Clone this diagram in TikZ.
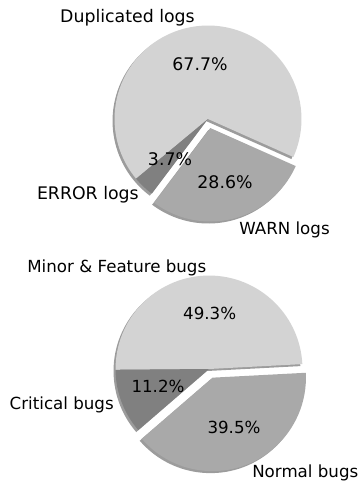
\documentclass[tikz,border=0pt]{standalone}
\usepackage{fontspec}
\setmainfont{DejaVu Sans}
\usetikzlibrary{calc}

\definecolor{pieLight}{HTML}{D3D3D3}
\definecolor{pieDark}{HTML}{A9A9A9}
\definecolor{pieMid}{HTML}{808080}
\definecolor{pieShadow}{HTML}{9C9C9C}

\begin{document}
\begin{tikzpicture}[
  x=0.75pt,y=0.75pt,
  every node/.style={font=\fontsize{12.5}{15}\selectfont,inner sep=0pt},
  big/.style={font=\fontsize{13}{15.6}\selectfont},
  lbl/.style={anchor=base east},
  lblr/.style={anchor=base west},
  pct/.style={anchor=center},
  shade/.style={fill=pieShadow}
]
\def\R{70.1pt}
\useasboundingbox (0,0) rectangle (358,-482);

% ============================================================
% TOP: log levels
% ============================================================

\coordinate (C1) at (208,-119);
\coordinate (C1w) at ($(C1)+(284.5:7pt)$); % exploded WARN slice

% shadows
\fill[shade] ($(C1)+(-1.5pt,-1.5pt)$) -- ++(-24:\R) arc[start angle=-24,end angle=233.04,radius=\R] -- cycle;
\fill[shade] ($(C1w)+(-1.5pt,-1.5pt)$) -- ++(233.04:\R) arc[start angle=233.04,end angle=336,radius=\R] -- cycle;

% slices
\fill[pieLight] (C1) -- ++(-24:\R) arc[start angle=-24,end angle=219.72,radius=\R] -- cycle;
\fill[pieMid] (C1) -- ++(219.72:\R) arc[start angle=219.72,end angle=233.04,radius=\R] -- cycle;
\fill[pieDark] (C1w) -- ++(233.04:\R) arc[start angle=233.04,end angle=336,radius=\R] -- cycle;

\node[lbl,big] (dupLbl) at (195,-22.7) {Duplicated logs};
\node[lbl,big] (errLbl) at (139,-199.5) {ERROR logs};
\node[lblr] (warnLbl) at (239,-234.5) {WARN logs};

\node[pct,big] (dupPct) at (200,-63.7) {67.7\%};
\node[pct,big] (errPct) at (170,-159) {3.7\%};
\node[pct,big] (warnPct) at (225,-182.5) {28.6\%};

% ============================================================
% BOTTOM: bug severity
% ============================================================

\coordinate (C2) at (209,-369);
\coordinate (C2w) at ($(C2)+(291.9:7pt)$); % exploded Normal slice

% shadows
\fill[shade] ($(C2)+(-1.5pt,-1.5pt)$) -- ++(3:\R) arc[start angle=3,end angle=220.8,radius=\R] -- cycle;
\fill[shade] ($(C2w)+(-1.5pt,-1.5pt)$) -- ++(220.8:\R) arc[start angle=220.8,end angle=363,radius=\R] -- cycle;

% slices
\fill[pieLight] (C2) -- ++(3:\R) arc[start angle=3,end angle=180.48,radius=\R] -- cycle;
\fill[pieMid] (C2) -- ++(180.48:\R) arc[start angle=180.48,end angle=220.8,radius=\R] -- cycle;
\fill[pieDark] (C2w) -- ++(220.8:\R) arc[start angle=220.8,end angle=363,radius=\R] -- cycle;

\node[lbl] (minLbl) at (206.5,-272.7) {Minor \& Feature bugs};
\node[lbl] (critLbl) at (114,-409) {Critical bugs};
\node[lblr] (normLbl) at (252,-477.3) {Normal bugs};

\node[pct] (minPct) at (209.7,-313.3) {49.3\%};
\node[pct] (critPct) at (158,-386.4) {11.2\%};
\node[pct] (normPct) at (234,-427.8) {39.5\%};

\end{tikzpicture}
\end{document}
